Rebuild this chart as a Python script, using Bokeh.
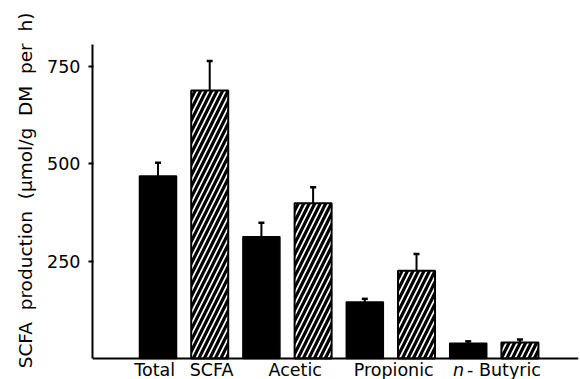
import numpy as np
from bokeh.plotting import figure
from bokeh.models import Range1d, FixedTicker, Whisker, TeeHead, Label, ColumnDataSource, Span
from bokeh.embed import file_html
from bokeh.resources import INLINE

# ---- data ----
groups = ["Total\u00a0\u00a0\u2009SCFA", "Acetic", "Propionic", "n-Butyric"]
control_vals = [468, 312, 145, 39]
control_err = [34, 36, 8, 5]
treated_vals = [687, 398, 225, 41]
treated_err = [76, 41, 43, 8]
y_ticks = [250, 500, 750]
y_axis_top = 805

FONT = "DejaVu Sans"

gi = np.arange(len(groups))
x_ctrl = 2 * gi
x_trt = 2 * gi + 1

p = figure(width=580, height=379, output_backend="svg", toolbar_location=None,
           x_range=Range1d(-1.267, 8.133), y_range=Range1d(-53.8, 915.4),
           min_border_left=92, min_border_right=2, min_border_top=1, min_border_bottom=0)
p.outline_line_color = None
p.grid.visible = False
p.background_fill_color = "white"
p.xaxis.visible = False

src_c = ColumnDataSource(dict(x=x_ctrl, top=control_vals,
                              up=np.array(control_vals) + np.array(control_err)))
src_t = ColumnDataSource(dict(x=x_trt, top=treated_vals,
                              up=np.array(treated_vals) + np.array(treated_err)))

bw = 0.716
p.vbar(x="x", top="top", bottom=0, width=bw, source=src_c, fill_color="black", line_color="black", line_width=1.5)
p.vbar(x="x", top="top", bottom=0, width=bw, source=src_t, fill_color="white", line_color="black", line_width=2,
       hatch_pattern="/", hatch_color="black", hatch_scale=11, hatch_weight=3.2)

for s in (src_c, src_t):
    p.add_layout(Whisker(source=s, base="x", lower="top", upper="up", line_width=2, line_color="black",
                         upper_head=TeeHead(size=6, line_width=2.5, line_color="black"), lower_head=None))

# x axis baseline
p.add_layout(Span(location=0, dimension="width", line_width=2, line_color="black"))

# y axis
p.yaxis.bounds = (0, y_axis_top)
p.yaxis.ticker = FixedTicker(ticks=y_ticks)
p.yaxis.axis_line_width = 2
p.yaxis.major_tick_line_width = 2
p.yaxis.major_tick_out = 4
p.yaxis.major_tick_in = 1
p.yaxis.minor_tick_line_color = None
p.yaxis.major_label_standoff = 8
p.yaxis.major_label_text_font = FONT
p.yaxis.major_label_text_font_size = "17.5px"
p.yaxis.major_label_text_color = "black"
p.yaxis.axis_label = "SCFA\u00a0\u00a0production\u00a0\u00a0(\u03bcmol/g\u00a0\u00a0DM\u00a0\u00a0per\u00a0\u00a0h)"
p.yaxis.axis_label_text_font = FONT
p.yaxis.axis_label_text_font_size = "18.5px"
p.yaxis.axis_label_text_font_style = "normal"
p.yaxis.axis_label_text_color = "black"
p.yaxis.axis_label_standoff = 8

# category labels
offsets = [0, 8, 3]
for i in range(3):
    p.add_layout(Label(x=2 * i + 0.5, y=0, x_offset=offsets[i], y_offset=-1, text=groups[i],
                       text_align="center", text_baseline="top",
                       text_font=FONT, text_font_size="17.5px", text_color="black"))
p.add_layout(Label(x=6.5, y=0, x_offset=-41, y_offset=-1, text="n", text_align="left", text_baseline="top",
                   text_font=FONT, text_font_style="italic", text_font_size="17.5px", text_color="black"))
p.add_layout(Label(x=6.5, y=0, x_offset=-27, y_offset=-1, text="-\u00a0Butyric", text_align="left", text_baseline="top",
                   text_font=FONT, text_font_size="17.5px", text_color="black"))

open("out.html", "w").write(file_html(p, INLINE))
